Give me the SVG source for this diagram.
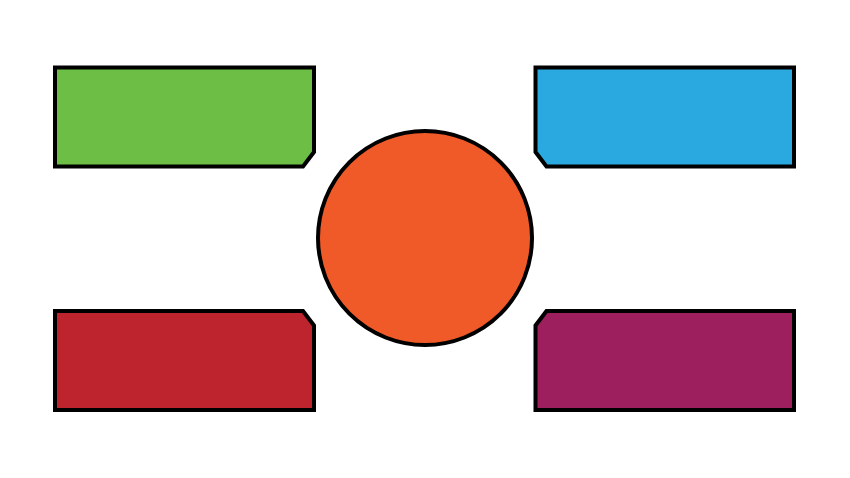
<svg xmlns="http://www.w3.org/2000/svg" width="850" height="478" viewBox="0 0 850 478">
<style>
.s{stroke:#000;stroke-width:4;stroke-linejoin:miter}
</style>
<rect width="850" height="478" fill="#fff"/>
<g id="node-green"><path class="s" fill="#6DBE45" d="M55,67.5 H314 V152 L303,166.5 H55 Z"/></g>
<g id="node-blue"><path class="s" fill="#29A9E0" d="M535.5,67.5 H794 V166.5 H546.5 L535.5,152 Z"/></g>
<g id="node-red"><path class="s" fill="#BE242D" d="M55,311 H303 L314,325.5 V410 H55 Z"/></g>
<g id="node-purple"><path class="s" fill="#9D1F5E" d="M546.5,311 H794 V410 H535.5 V325.5 Z"/></g>
<g id="node-center"><circle class="s" fill="#F05A28" cx="425" cy="238" r="107"/></g>
<g id="connectors"></g>
</svg>
